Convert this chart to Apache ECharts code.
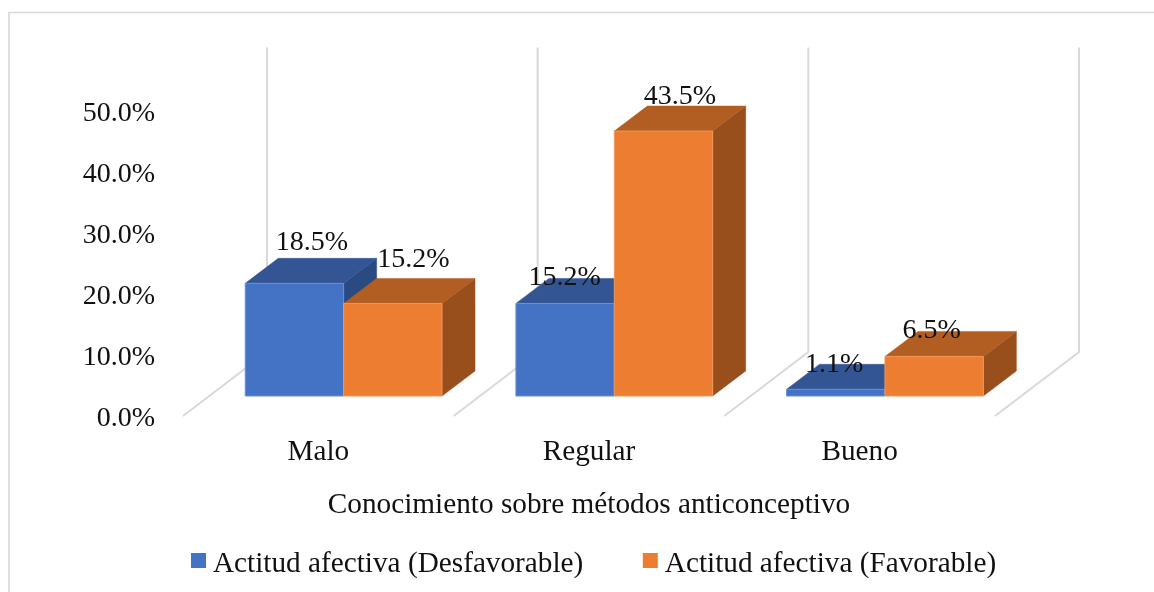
<!DOCTYPE html>
<html>
<head>
<meta charset="utf-8">
<style>html,body{margin:0;padding:0;background:#fff}#chart{width:1154px;height:592px}</style>
<script src="https://cdn.jsdelivr.net/npm/echarts@6/dist/echarts.min.js"></script>
</head>
<body>
<div id="chart"></div>
<script>
// Survey results by level of knowledge, in percent
const categories = ['Malo', 'Regular', 'Bueno'];
const desfavorable = [18.5, 15.2, 1.1];
const favorable = [15.2, 43.5, 6.5];
const yTicks = [0, 10, 20, 30, 40, 50];

// Oblique projection of the box the bars stand in (pixels)
const frameLift = -2.5;
const floorDepth = [84, -64];
const barInset = [25.3, -22.5];
const barDepth = [33, -25];
const barWidthShare = 0.3635;
const fontFamily = '"Liberation Serif", "Times New Roman", serif';
const numberSize = 28;
const wordSize = 29.25;

// Legend swatch: a 15 unit square with a speck below it, which lifts the square against its text
const swatchIcon = 'path://M0 0H15V15H0Z M0 23H0.01V23.01H0Z';

// Hand placed label shifts, relative to the middle of each bar's top back edge
const labelShiftA = [[1, -15.5], [-17, -0.5], [-18, 0.5]];
const labelShiftB = [[4, -18.5], [0, -9.5], [-19, -0.5]];

function poly(points, fill, z2) {
  return {
    type: 'polygon',
    z2: z2,
    shape: { points: points },
    style: { fill: fill, stroke: fill, lineWidth: 0.5 }
  };
}

function boxRenderer(side, palette, shifts) {
  return function (params, api) {
    const i = api.value(0);
    const v = api.value(1);
    const centre = api.coord([i, 0]);
    const top = api.coord([i, v]);
    const w = api.size([1, 0])[0] * barWidthShare;
    const x0 = centre[0] + barInset[0] + (side < 0 ? -w : 0);
    const x1 = x0 + w;
    const yb = centre[1] + barInset[1];
    const yt = top[1] + barInset[1];
    const [dx, dy] = barDepth;
    const children = [
      poly([[x1, yt], [x1 + dx, yt + dy], [x1 + dx, yb + dy], [x1, yb]], palette.side, 1),
      poly([[x0, yt], [x0 + dx, yt + dy], [x1 + dx, yt + dy], [x1, yt]], palette.top, 1),
      {
        type: 'rect',
        z2: 2,
        shape: { x: x0, y: yt, width: w, height: yb - yt },
        style: { fill: palette.front, stroke: palette.edge, lineWidth: 1 }
      },
      {
        type: 'text',
        z2: 20,
        style: {
          text: v.toFixed(1) + '%',
          x: (x0 + x1) / 2 + dx / 2 + shifts[i][0],
          y: yt + dy + shifts[i][1],
          fill: '#111',
          font: numberSize + 'px ' + fontFamily,
          align: 'center',
          verticalAlign: 'middle'
        }
      }
    ];
    return { type: 'group', children: children };
  };
}

// Back wall posts and floor lines at each category boundary
function frameRenderer(params, api) {
  const i = api.value(0);
  const w = api.size([1, 0])[0];
  const lineStyle = { stroke: '#d9d9d9', lineWidth: 2, fill: null };
  const out = [];
  const edges = i === categories.length - 1 ? [i - 0.5, i + 0.5] : [i - 0.5];
  edges.forEach(function (e) {
    const base = api.coord([i, 0]);
    const topP = api.coord([i, 50]);
    const x = base[0] + (e - i) * w;
    const y0 = base[1] + frameLift;
    const xb = x + floorDepth[0];
    const yb = y0 + floorDepth[1];
    const yt = topP[1] + frameLift + floorDepth[1];
    out.push({
      type: 'polyline',
      shape: { points: [[x, y0], [xb, yb], [xb, yt]] },
      style: lineStyle
    });
  });
  return { type: 'group', children: out };
}

const chart = echarts.init(document.getElementById('chart'), null, { renderer: 'canvas' });
chart.setOption({
  animation: false,
  backgroundColor: '#fff',
  graphic: [{
    type: 'polyline',
    shape: { points: [[9, 600], [9, 12.5], [1160, 12.5]] },
    style: { fill: null, stroke: '#d9d9d9', lineWidth: 1.6 },
    silent: true,
    z: -1
  }],
  grid: { left: 183, top: 114, width: 812, height: 304.5, containLabel: false },
  xAxis: {
    type: 'category',
    data: categories,
    axisLine: { show: false },
    axisTick: { show: false },
    axisLabel: { color: '#111', fontFamily: fontFamily, fontSize: wordSize, margin: 19.5 },
    name: 'Conocimiento sobre métodos anticonceptivo',
    nameLocation: 'middle',
    nameGap: 72.5,
    nameTextStyle: { color: '#111', fontFamily: fontFamily, fontSize: wordSize }
  },
  yAxis: {
    type: 'value',
    min: yTicks[0],
    max: yTicks[yTicks.length - 1],
    interval: yTicks[1] - yTicks[0],
    splitLine: { show: false },
    axisLine: { show: false },
    axisTick: { show: false },
    axisLabel: {
      color: '#111',
      fontFamily: fontFamily,
      fontSize: numberSize,
      margin: 28,
      formatter: function (v) { return v.toFixed(1) + '%'; }
    }
  },
  legend: {
    data: [
      { name: 'Actitud afectiva (Desfavorable)', icon: swatchIcon },
      { name: 'Actitud afectiva (Favorable)', icon: swatchIcon }
    ],
    left: 191,
    top: 550,
    padding: 0,
    itemWidth: 15,
    itemHeight: 23,
    itemGap: 59.5,
    textStyle: { color: '#111', fontFamily: fontFamily, fontSize: wordSize, padding: [0, 0, 0, 2] }
  },
  series: [
    {
      name: 'frame',
      type: 'custom',
      silent: true,
      clip: false,
      z: 1,
      renderItem: frameRenderer,
      encode: { x: 0, y: 1 },
      data: categories.map(function (c, i) { return [i, 0]; })
    },
    {
      name: 'Actitud afectiva (Desfavorable)',
      type: 'custom',
      clip: false,
      z: 2,
      itemStyle: { color: '#4472C4' },
      renderItem: boxRenderer(-1, { front: '#4472C4', top: '#335593', side: '#2A4A82', edge: '#6a8fd3' }, labelShiftA),
      encode: { x: 0, y: 1 },
      data: desfavorable.map(function (v, i) { return [i, v]; })
    },
    {
      name: 'Actitud afectiva (Favorable)',
      type: 'custom',
      clip: false,
      z: 2,
      itemStyle: { color: '#ED7D31' },
      renderItem: boxRenderer(1, { front: '#ED7D31', top: '#B25E22', side: '#994F1C', edge: '#f0985c' }, labelShiftB),
      encode: { x: 0, y: 1 },
      data: favorable.map(function (v, i) { return [i, v]; })
    }
  ]
});
</script>
</body>
</html>
